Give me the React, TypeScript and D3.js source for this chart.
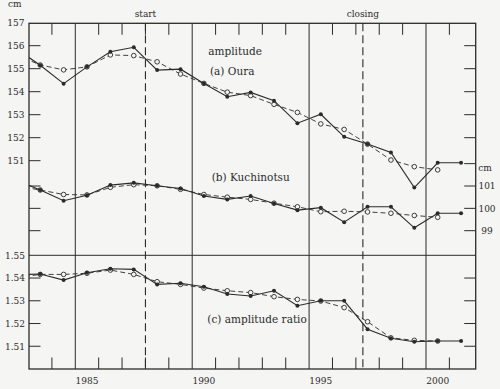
import * as d3 from "d3";

// annual means plotted at mid-year; first entry sits left of the frame and is clipped
const years = [1982.5, 1983.5, 1984.5, 1985.5, 1986.5, 1987.5, 1988.5, 1989.5, 1990.5, 1991.5,
  1992.5, 1993.5, 1994.5, 1995.5, 1996.5, 1997.5, 1998.5, 1999.5, 2000.5, 2001.5];

const ouraAnnual = [155.85, 155.15, 154.35, 155.08, 155.74, 155.93, 154.94, 154.98, 154.36, 153.78,
  153.97, 153.61, 152.63, 153.02, 152.04, 151.73, 151.36, 149.83, 150.91, 150.91];
const ouraMean = [155.6, 155.16, 154.95, 155.08, 155.6, 155.57, 155.3, 154.77, 154.36, 153.98,
  153.83, 153.45, 153.1, 152.6, 152.36, 151.72, 151.03, 150.74, 150.6];

const kuchiAnnual = [101.26, 100.82, 100.34, 100.59, 101.04, 101.14, 101.01, 100.89, 100.55, 100.4,
  100.55, 100.22, 99.92, 100.03, 99.38, 100.07, 100.07, 99.13, 99.78, 99.78];
const kuchiMean = [101.0, 100.82, 100.62, 100.6, 100.94, 101.06, 101.01, 100.85, 100.62, 100.5,
  100.4, 100.23, 100.07, 99.85, 99.87, 99.84, 99.78, 99.68, 99.6];

const ratioAnnual = [1.5414, 1.5418, 1.5391, 1.5423, 1.5441, 1.5438, 1.5372, 1.5377, 1.5362, 1.533,
  1.5321, 1.5344, 1.5278, 1.53, 1.53, 1.5175, 1.5135, 1.512, 1.5123, 1.5123];
const ratioMean = [1.5402, 1.5416, 1.5416, 1.5421, 1.5435, 1.5416, 1.5384, 1.5372, 1.5356, 1.5344,
  1.5336, 1.5318, 1.5306, 1.5299, 1.527, 1.5208, 1.5137, 1.5126, 1.5123];

const gridYears = [1985, 1990, 1995, 2000];
const minorYears = [1984, 1986, 1987, 1988, 1989, 1991, 1992, 1993, 1994, 1996, 1997, 1998, 1999, 2001];
const events = [{ year: 1988.0, label: "start" }, { year: 1997.3, label: "closing" }];

const ouraLabels = [157, 156, 155, 154, 153, 152, 151];
const ouraRightTicks = [156, 155, 154, 153, 152];
const kuchiLeftTicks = [101, 100, 99];
const kuchiRightTicks = [102, 101, 100, 99];
const ratioLabels = [1.55, 1.54, 1.53, 1.52, 1.51];

const W = 500, H = 389;
const left = 29, right = 475.7, top = 23.3, bottom = 369;
const ink = "#2b2b2b";
const paper = "#f5f5f3";
const font = "'DejaVu Serif', serif";

const x = d3.scaleLinear().domain([1985, 2000]).range([75.3, 426]);
const yOura = d3.scaleLinear().domain([151, 157]).range([160.7, 22.7]);
const yKuchi = d3.scaleLinear().domain([99, 101]).range([230.7, 186]);
const yRatio = d3.scaleLinear().domain([1.5, 1.55]).range([369, 255.3]);

function Series({ values, y, dashed }: { values: number[]; y: d3.ScaleLinear<number, number>; dashed?: boolean }) {
  const pts = values.map((v, i) => [years[i], v] as [number, number]);
  const line = d3.line<[number, number]>().x(d => x(d[0])).y(d => y(d[1]));
  const shown = pts.filter(d => x(d[0]) > left);
  return (
    <g>
      <path d={line(pts) ?? ""} fill="none" stroke={ink} strokeWidth={dashed ? 0.9 : 1.1}
        strokeDasharray={dashed ? "5,3" : undefined} clipPath="url(#frame)" />
      {shown.map((d, i) => dashed
        ? <circle key={i} cx={x(d[0])} cy={y(d[1])} r={2.3} fill={paper} stroke={ink} strokeWidth={0.9} />
        : <circle key={i} cx={x(d[0])} cy={y(d[1])} r={2} fill={ink} />)}
    </g>
  );
}

export default function App() {
  const tickLen = 11.5;
  const leftTick = (yy: number, k: string) => <line key={k} x1={left} x2={left + tickLen} y1={yy} y2={yy} stroke={ink} strokeWidth={1} />;
  const rightTick = (yy: number, k: string) => <line key={k} x1={right - tickLen} x2={right} y1={yy} y2={yy} stroke={ink} strokeWidth={1} />;

  return (
    <svg width={W} height={H} style={{ position: "absolute", left: 0, top: 0, background: paper }} fontFamily={font}>
      <defs>
        <clipPath id="frame"><rect x={left} y={top} width={right - left} height={bottom - top} /></clipPath>
      </defs>
      <rect width={W} height={H} fill={paper} />

      {/* year grid and minor ticks */}
      {gridYears.map(yr => <line key={yr} x1={x(yr)} x2={x(yr)} y1={top} y2={bottom} stroke={ink} strokeWidth={1} />)}
      {minorYears.map(yr => (
        <g key={yr}>
          <line x1={x(yr)} x2={x(yr)} y1={top} y2={top + tickLen} stroke={ink} strokeWidth={1} />
          <line x1={x(yr)} x2={x(yr)} y1={bottom - tickLen} y2={bottom} stroke={ink} strokeWidth={1} />
        </g>
      ))}
      {gridYears.map(yr => (
        <text key={yr} x={x(yr + 0.5)} y={383.5} fontSize={9} textAnchor="middle" fill={ink}>{yr}</text>
      ))}

      {/* panel separator */}
      <line x1={left} x2={right} y1={yRatio(1.55)} y2={yRatio(1.55)} stroke={ink} strokeWidth={1} />

      {/* y ticks */}
      {ouraLabels.filter(v => v < 157).map(v => leftTick(yOura(v), `ol${v}`))}
      {ouraRightTicks.map(v => rightTick(yOura(v), `or${v}`))}
      {kuchiLeftTicks.map(v => leftTick(yKuchi(v), `kl${v}`))}
      {kuchiRightTicks.map(v => rightTick(yKuchi(v), `kr${v}`))}
      {ratioLabels.filter(v => v < 1.55).map(v => leftTick(yRatio(v), `rl${v}`))}
      {ratioLabels.filter(v => v < 1.55).map(v => rightTick(yRatio(v), `rr${v}`))}

      {ouraLabels.map(v => (
        <text key={v} x={24.5} y={yOura(v) + 3.3} fontSize={9} textAnchor="end" fill={ink}>{v}</text>
      ))}
      {ratioLabels.map(v => (
        <text key={v} x={25} y={yRatio(v) + 3.3} fontSize={9} textAnchor="end" fill={ink}>{v.toFixed(2)}</text>
      ))}
      {kuchiLeftTicks.map(v => (
        <text key={v} x={487} y={yKuchi(v) + 3.3} fontSize={9} textAnchor="middle" fill={ink}>{v}</text>
      ))}
      <text x={485} y={yKuchi(102) + 7.5} fontSize={9} textAnchor="middle" fill={ink}>cm</text>
      <text x={8} y={6.5} fontSize={9} fill={ink}>cm</text>

      {/* event markers */}
      {events.map(e => (
        <g key={e.label}>
          <line x1={x(e.year)} x2={x(e.year)} y1={top} y2={bottom} stroke={ink} strokeWidth={1.1} strokeDasharray="8,4" />
          <text x={x(e.year)} y={16.5} fontSize={9} textAnchor="middle" fill={ink}>{e.label}</text>
        </g>
      ))}

      <Series values={ouraMean} y={yOura} dashed />
      <Series values={ouraAnnual} y={yOura} />
      <Series values={kuchiMean} y={yKuchi} dashed />
      <Series values={kuchiAnnual} y={yKuchi} />
      <Series values={ratioMean} y={yRatio} dashed />
      <Series values={ratioAnnual} y={yRatio} />

      {/* frame */}
      <rect x={left} y={top} width={right - left} height={bottom - top} fill="none" stroke={ink} strokeWidth={1.3} />

      <text x={208.3} y={54.5} fontSize={10.5} fill={ink}>amplitude</text>
      <text x={210} y={74.5} fontSize={10.5} fill={ink}>(a) Oura</text>
      <text x={211.7} y={180.5} fontSize={10.5} fill={ink}>(b) Kuchinotsu</text>
      <text x={207.3} y={323} fontSize={10.5} fill={ink}>(c) amplitude ratio</text>
    </svg>
  );
}
